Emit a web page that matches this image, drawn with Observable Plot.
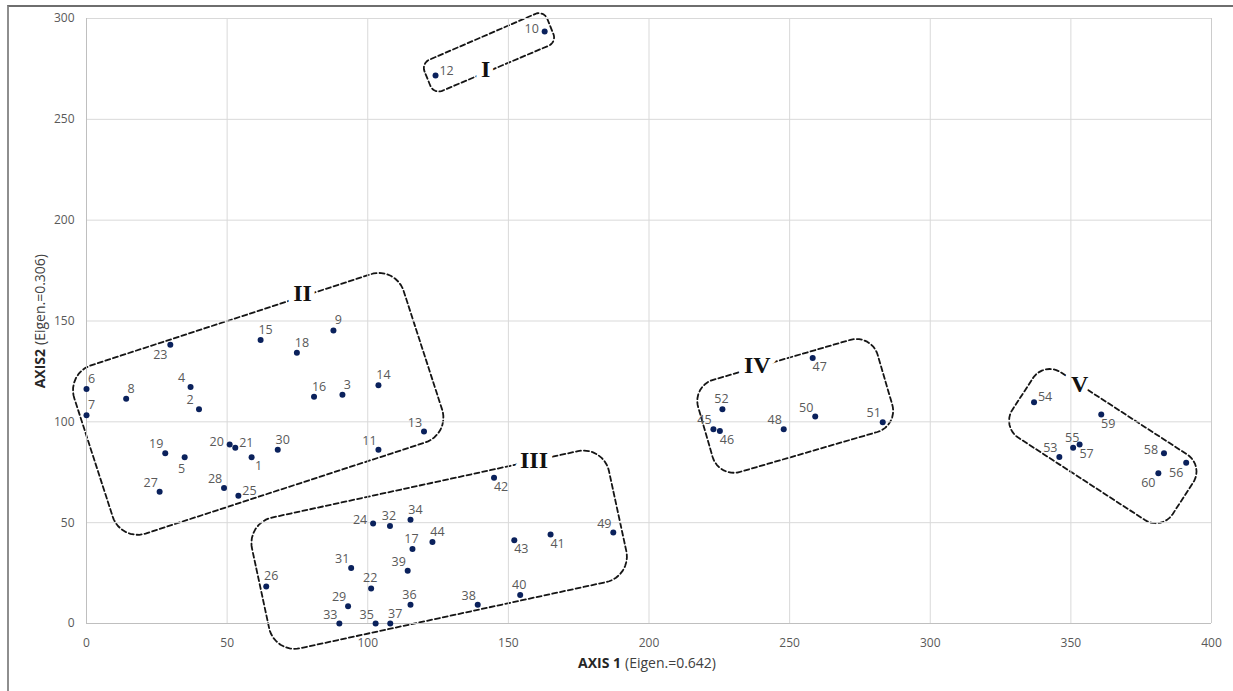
<!DOCTYPE html>
<html><head><meta charset="utf-8">
<script src="https://cdn.jsdelivr.net/npm/d3@7"></script>
<script src="https://cdn.jsdelivr.net/npm/@observablehq/plot@0.6"></script>
<style>
html,body{margin:0;padding:0;background:#fff;}
#wrap{position:relative;width:1233px;height:691px;overflow:hidden;}
#chart{position:absolute;left:0;top:0;}
#border{position:absolute;left:7px;top:5px;width:1400px;height:900px;border-left:2px solid #8e8e8e;border-top:2px solid #6e6e6e;pointer-events:none;}
</style></head><body>
<div id="wrap"><div id="chart"></div><div id="border"></div></div>
<script>
// ---- data ----
const ids = [1,2,3,4,5,6,7,8,9,10,11,12,13,14,15,16,17,18,19,20,21,22,23,24,25,26,27,28,29,30,
             31,32,33,34,35,36,37,38,39,40,41,42,43,44,45,46,47,48,49,50,51,52,53,54,55,56,57,58,59,60];
const axis1 = [58.7,40.0,91.0,37.0,34.9,0,0,14.1,87.8,162.9,103.8,124.1,120.0,103.8,61.9,80.9,115.9,74.8,28.0,50.9,
               52.9,101.2,29.8,101.9,54.0,63.9,26.0,48.9,93.0,68.0,94.1,107.9,89.9,115.2,102.8,115.2,108.0,139.1,114.2,154.2,
               165.0,144.9,152.1,123.0,222.9,225.2,258.2,247.9,187.3,259.1,283.1,226.1,345.9,336.9,350.8,391.0,353.1,383.1,360.8,381.1];
const axis2 = [82.4,106.3,113.4,117.3,82.4,116.3,103.3,111.4,145.3,293.5,86.2,271.7,95.2,118.2,140.6,112.4,37.0,134.3,84.4,88.7,
               87.2,17.4,138.2,49.6,63.3,18.4,65.3,67.2,8.5,86.2,27.5,48.4,0,51.4,0,9.3,0,9.3,26.2,14.1,
               44.1,72.3,41.3,40.4,96.3,95.5,131.6,96.3,45.1,102.6,99.8,106.3,82.6,109.7,87.2,79.7,88.7,84.4,103.6,74.5];
// side of each point's number label
const labelSide = ["se","nw","ne","nw","s","ne","ne","ne","ne","w","nw","e","nw","ne","ne","ne","n","ne","nw","w",
                   "e","n","sw","w","e","ne","nw","nw","nw","ne","nw","n","nw","ne","nw","n","ne","nw","nw","n",
                   "se","se","se","ne","nw","se","se","nw","nw","nw","nw","n","nw","e","n","sw","se","w","se","sw"];

const xTicks = [0,50,100,150,200,250,300,350,400];
const yTicks = [0,50,100,150,200,250,300];

const clusterNames = ["I","II","III","IV","V"];
const clusterLabelX = [141.9, 76.8, 159.1, 238.5, 353.1];
const clusterLabelY = [274.8, 163.5, 80.8, 127.9, 118.5];
// enclosure corners (axis1, axis2), clockwise
const encI   = [[119.0,277.8],[162.6,304.1],[167.2,288.2],[123.5,262.4]];
const encII  = [[-7.2,124.0],[109.9,177.2],[129.3,93.8],[12.2,40.6]];
const encIII = [[56.9,49.8],[183.8,88.2],[193.9,23.3],[66.9,-15.0]];
const encIV  = [[215.3,117.8],[279.1,143.7],[288.7,98.0],[224.8,72.1]];
const encV   = [[340.4,130.0],[397.4,78.3],[382.3,45.9],[325.3,97.6]];
const enclosures = [encI, encII, encIII, encIV, encV];
const cornerRadius = [9, 26, 26, 22, 20];

// ---- layout ----
const W = 1233, H = 691, ML = 86, MR = 22, MT = 18, MB = 68;
const kx = (W - ML - MR) / 400, ky = (H - MT - MB) / 300;

function roundedLoop(corners, r, steps = 10) {
  const P = corners.map(([x, y]) => [x * kx, y * ky]);
  const n = P.length, out = [];
  const norm = (v) => { const L = Math.hypot(v[0], v[1]); return [v[0] / L, v[1] / L]; };
  for (let i = 0; i < n; i++) {
    const c = P[i], a = P[(i + n - 1) % n], b = P[(i + 1) % n];
    const d1 = norm([a[0] - c[0], a[1] - c[1]]), d2 = norm([b[0] - c[0], b[1] - c[1]]);
    const A = [c[0] + r * d1[0], c[1] + r * d1[1]];
    const B = [c[0] + r * d2[0], c[1] + r * d2[1]];
    const C = [c[0] + r * (d1[0] + d2[0]), c[1] + r * (d1[1] + d2[1])];
    for (let s = 0; s <= steps; s++) {
      const t = s / steps;
      const vx = (A[0] - C[0]) * (1 - t) + (B[0] - C[0]) * t;
      const vy = (A[1] - C[1]) * (1 - t) + (B[1] - C[1]) * t;
      const L = Math.hypot(vx, vy);
      out.push([C[0] + r * vx / L, C[1] + r * vy / L]);
    }
  }
  out.push(out[0]);
  return out.map(([px, py]) => [px / kx, py / ky]);
}

const points = ids.map((id, i) => ({id, x: axis1[i], y: axis2[i], side: labelSide[i]}));
const clusters = clusterNames.map((name, i) => ({name, x: clusterLabelX[i], y: clusterLabelY[i]}));
const outline = [];
enclosures.forEach((enc, g) => roundedLoop(enc, cornerRadius[g]).forEach(([x, y]) => outline.push({g, x, y})));

const sideOffsets = {
  n: [-1, -10], ne: [5, -10], nw: [-9, -9], e: [11, -5], w: [-13, -3],
  se: [7, 9], sw: [-10, 10], s: [-3, 12]
};
const labelMarks = Object.entries(sideOffsets).map(([s, [dx, dy]]) =>
  Plot.text(points.filter(p => p.side === s), {
    x: "x", y: "y", text: "id", dx, dy, fill: "#595959", fontSize: 12.5
  })
);

const romanFont = "'Liberation Serif', 'Times New Roman', serif";

const chart = Plot.plot({
  width: W, height: H,
  marginLeft: ML, marginRight: MR, marginTop: MT, marginBottom: MB,
  style: {fontFamily: "'Open Sans', sans-serif", fontSize: "12px", color: "#595959", background: "transparent"},
  x: {domain: [0, 400]},
  y: {domain: [0, 300]},
  marks: [
    Plot.line(outline, {x: "x", y: "y", z: "g", stroke: "#151515", strokeWidth: 1.8, strokeDasharray: "5,3"}),
    Plot.text(clusters, {x: "x", y: "y", text: "name", fontFamily: romanFont, fontWeight: "bold", fontSize: 24,
      fill: "white", stroke: "white", strokeWidth: 11, strokeLinejoin: "round"}),
    Plot.gridX({ticks: xTicks, stroke: "#d9d9d9", strokeOpacity: 1}),
    Plot.gridY({ticks: yTicks, stroke: "#d9d9d9", strokeOpacity: 1}),
    Plot.ruleX([400], {stroke: "#cccccc"}),
    Plot.ruleX([0], {stroke: "#bfbfbf"}),
    Plot.ruleY([0], {stroke: "#bfbfbf"}),
    Plot.axisX({ticks: xTicks, tickSize: 0, tickPadding: 15, label: null, fontSize: 12, fill: "#595959"}),
    Plot.axisY({ticks: yTicks, tickSize: 0, tickPadding: 12, label: null, fontSize: 12, fill: "#595959"}),
    Plot.text(clusters, {x: "x", y: "y", text: "name", fontFamily: romanFont, fontWeight: "bold", fontSize: 24, fill: "#111"}),
    ...labelMarks,
    Plot.dot(points, {x: "x", y: "y", r: 3, fill: "#0a215c", stroke: "none"}),
    // axis titles
    Plot.text(["AXIS 1"], {text: d => d, frameAnchor: "bottom", textAnchor: "end", dx: -28, dy: 44,
      fontWeight: "bold", fontSize: 14, fill: "#262626"}),
    Plot.text(["(Eigen.=0.642)"], {text: d => d, frameAnchor: "bottom", textAnchor: "start", dx: -24, dy: 44,
      fontSize: 14, fill: "#404040"}),
    Plot.text(["AXIS2"], {text: d => d, frameAnchor: "left", textAnchor: "end", rotate: -90, dx: -46, dy: 28,
      fontWeight: "bold", fontSize: 14, fill: "#262626"}),
    Plot.text(["(Eigen.=0.306)"], {text: d => d, frameAnchor: "left", textAnchor: "start", rotate: -90, dx: -46, dy: 24,
      fontSize: 14, fill: "#404040"})
  ]
});
document.getElementById("chart").appendChild(chart);
</script>
</body></html>
